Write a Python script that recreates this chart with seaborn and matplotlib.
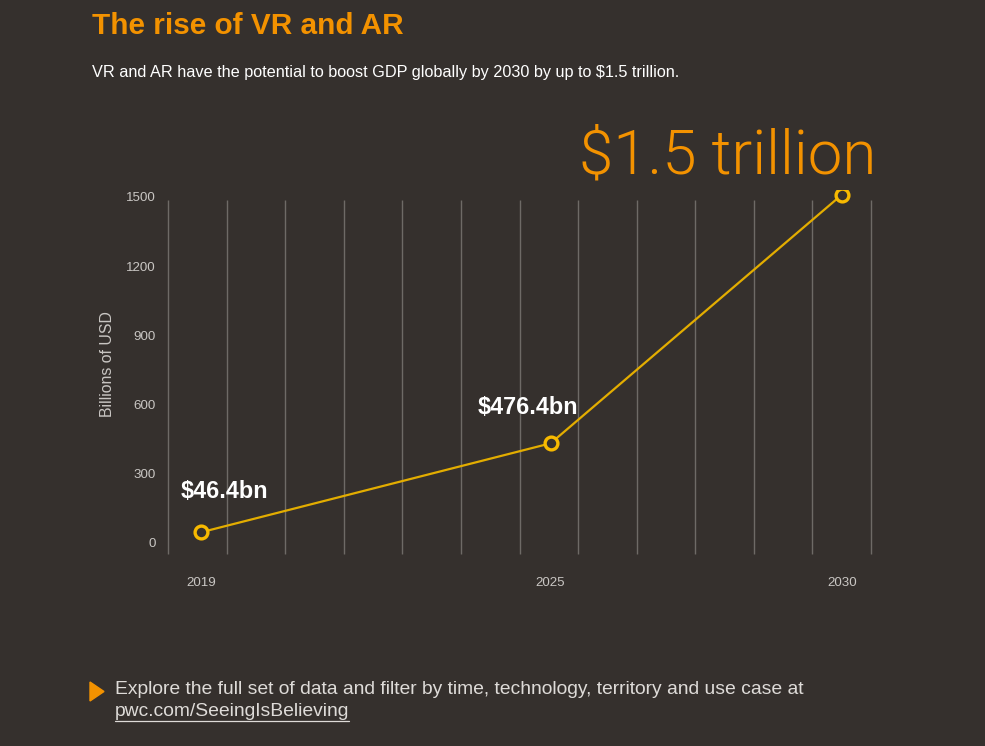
import matplotlib
matplotlib.use("Agg")
import matplotlib.pyplot as plt
import seaborn as sns
import pandas as pd
import numpy as np

years = [2019, 2025, 2030]
values = [46.4, 432, 1510]
point_labels = ["$46.4bn", "$476.4bn", ""]
y_ticks = [0, 300, 600, 900, 1200, 1500]
x_ticks = [2019, 2025, 2030]

BG = "#35302d"
ORANGE = "#f39200"
GOLD = "#e3ad00"
MARK = "#f7b900"
GRID = "#6e6a66"
TXT = "#c9c6c3"
FOOT = "#dedbd8"

sns.set_theme(style="dark")
plt.rcParams["font.family"] = ["Liberation Sans", "DejaVu Sans"]

fig = plt.figure(figsize=(9.85, 7.46), dpi=100, facecolor=BG)
ax = fig.add_axes([160/985, 1 - 560/746, 720/985, 370/746])
ax.set_facecolor(BG)

# decorative vertical grid lines (style, not data)
grid_x = np.linspace(2018.434, 2030.50, 13)
ax.vlines(grid_x, -48, 1487, colors=GRID, linewidth=1.0, zorder=1)

df = pd.DataFrame({"year": years, "value": values})
sns.lineplot(data=df, x="year", y="value", ax=ax, color=GOLD, linewidth=1.6,
             marker="o", markersize=9.2, markerfacecolor=BG, markeredgecolor=MARK,
             markeredgewidth=2.4, zorder=3)

ax.set_xlim(2018.296, 2030.653)
ax.set_ylim(-73.7, 1530)
ax.set_xticks(x_ticks)
ax.set_xticklabels([str(y) for y in x_ticks])
ax.set_yticks(y_ticks)
ax.set_yticklabels([str(v) for v in y_ticks])
ax.tick_params(axis="both", length=0, colors=TXT, labelsize=9.6)
ax.tick_params(axis="x", pad=12)
ax.tick_params(axis="y", pad=3)
ax.grid(False)
for s in ax.spines.values():
    s.set_visible(False)
ax.set_xlabel("")
ax.set_ylabel("Billions of USD", color=TXT, fontsize=11.4)
ax.yaxis.set_label_coords(-0.0625, 0.53)

offsets = [(-14.4, 29.5), (-52.5, 26)]
for yr, v, lab, off in zip(years, values, point_labels, offsets + [(0, 0)]):
    if lab:
        ax.annotate(lab, (yr, v), xytext=off, textcoords="offset points",
                    color="white", fontsize=16.8, fontweight="bold",
                    ha="left", va="center")

fig.text(92/985, 1 - 26/746, "The rise of VR and AR", color=ORANGE,
         fontsize=21.4, fontweight="bold", ha="left", va="center")
fig.text(92/985, 1 - 73/746,
         "VR and AR have the potential to boost GDP globally by 2030 by up to $1.5 trillion.",
         color="white", fontsize=11.7, ha="left", va="center")
fig.text(579/985, 1 - 173/746, "$1.5 trillion", color=ORANGE, fontsize=44.5,
         family=["Roboto", "DejaVu Sans"], fontweight=300, ha="left", va="baseline")

fig.patches.append(plt.Polygon([[90/985, 1 - 682/746], [90/985, 1 - 701/746],
                                [104/985, 1 - 691.5/746]], closed=True,
                               transform=fig.transFigure, color=ORANGE))
fig.text(115/985, 1 - 690/746,
         "Explore the full set of data and filter by time, technology, territory and use case at",
         color=FOOT, fontsize=13.9, ha="left", va="center")
t = fig.text(115/985, 1 - 711/746, "pwc.com/SeeingIsBelieving",
             color=FOOT, fontsize=13.9, ha="left", va="center")
fig.canvas.draw()
bb = t.get_window_extent().transformed(fig.transFigure.inverted())
fig.lines.append(plt.Line2D([bb.x0, bb.x1], [1 - 721/746, 1 - 721/746],
                            transform=fig.transFigure, color=FOOT, linewidth=0.9))

fig.savefig("out.png", dpi=100, facecolor=BG)
